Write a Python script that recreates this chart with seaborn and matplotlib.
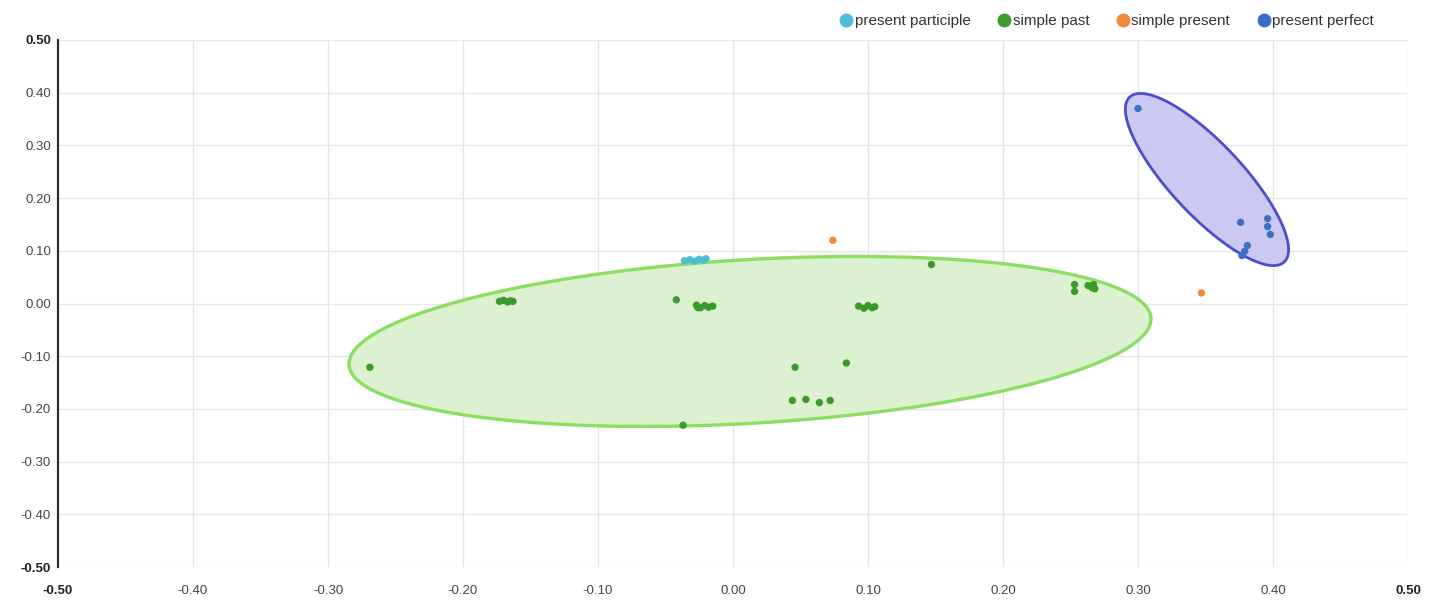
import numpy as np
import pandas as pd
import matplotlib
matplotlib.use("Agg")
import matplotlib.pyplot as plt
from matplotlib.lines import Line2D
import seaborn as sns

# ---- data -------------------------------------------------------------
categories = ["present participle", "simple past", "simple present", "present perfect"]
colors = ["#4cbcd8", "#3c9a2c", "#f0883a", "#3b6fc2"]

present_participle_x = [-0.036, -0.032, -0.028, -0.025, -0.022, -0.020]
present_participle_y = [0.081, 0.083, 0.080, 0.084, 0.082, 0.085]

simple_past_x = [-0.173, -0.170, -0.167, -0.165, -0.163,
                 -0.269, -0.042,
                 -0.027, -0.024, -0.021, -0.018, -0.015, -0.026,
                 0.093, 0.097, 0.100, 0.103, 0.105,
                 0.147,
                 0.253, 0.253, 0.263, 0.266, 0.267, 0.268,
                 0.046, 0.084,
                 0.044, 0.054, 0.064, 0.072,
                 -0.037]
simple_past_y = [0.004, 0.006, 0.003, 0.005, 0.004,
                 -0.121, 0.007,
                 -0.003, -0.008, -0.004, -0.007, -0.005, -0.008,
                 -0.005, -0.009, -0.004, -0.008, -0.006,
                 0.074,
                 0.036, 0.023, 0.034, 0.030, 0.036, 0.028,
                 -0.121, -0.113,
                 -0.184, -0.182, -0.188, -0.184,
                 -0.231]

simple_present_x = [0.074, 0.347]
simple_present_y = [0.120, 0.020]

present_perfect_x = [0.300, 0.376, 0.396, 0.396, 0.398, 0.381, 0.379, 0.377]
present_perfect_y = [0.370, 0.154, 0.161, 0.146, 0.131, 0.110, 0.099, 0.091]

x_ticks = [-0.5, -0.4, -0.3, -0.2, -0.1, 0.0, 0.1, 0.2, 0.3, 0.4, 0.5]
y_ticks = [-0.5, -0.4, -0.3, -0.2, -0.1, 0.0, 0.1, 0.2, 0.3, 0.4, 0.5]

# cluster outlines: centre, semi-axis vectors (data units)
past_center = (0.0126, -0.072)
past_axis_major = (0.297, 0.0445)
past_axis_minor = (0.0036, -0.155)

perfect_center = (0.3511, 0.2353)
perfect_axis_major = (0.0572, -0.1565)
perfect_axis_minor = (0.0195, 0.0467)

# ---- frame ------------------------------------------------------------
df = pd.concat([
    pd.DataFrame({"x": present_participle_x, "y": present_participle_y, "tense": categories[0]}),
    pd.DataFrame({"x": simple_past_x, "y": simple_past_y, "tense": categories[1]}),
    pd.DataFrame({"x": simple_present_x, "y": simple_present_y, "tense": categories[2]}),
    pd.DataFrame({"x": present_perfect_x, "y": present_perfect_y, "tense": categories[3]}),
], ignore_index=True)

sns.set_theme(style="white")
plt.rcParams["font.family"] = ["Liberation Sans", "DejaVu Sans"]

fig = plt.figure(figsize=(14.4, 6.03), dpi=100)
ax = fig.add_axes([58 / 1440, 1 - 567 / 603, 1350 / 1440, 527 / 603])


def outline(center, major, minor, n=240):
    t = np.linspace(0, 2 * np.pi, n)
    xs = center[0] + major[0] * np.cos(t) + minor[0] * np.sin(t)
    ys = center[1] + major[1] * np.cos(t) + minor[1] * np.sin(t)
    return xs, ys


ex, ey = outline(past_center, past_axis_major, past_axis_minor)
ax.fill(ex, ey, facecolor="#dcf1d0", edgecolor="#8ade63", linewidth=2.4, zorder=2)
ex, ey = outline(perfect_center, perfect_axis_major, perfect_axis_minor)
ax.fill(ex, ey, facecolor="#cbc8f2", edgecolor="#4d4dcc", linewidth=2.0, zorder=2)

sns.scatterplot(data=df, x="x", y="y", hue="tense", hue_order=categories,
                palette=colors, s=28, edgecolor="none", legend=False,
                ax=ax, zorder=3)

ax.set_xlim(-0.5, 0.5)
ax.set_ylim(-0.5, 0.5)
ax.set_xticks(x_ticks)
ax.set_yticks(y_ticks)
ax.set_xticklabels([f"{v:.2f}" for v in x_ticks])
ax.set_yticklabels([f"{v:.2f}" for v in y_ticks])
ax.set_xlabel("")
ax.set_ylabel("")
ax.grid(True, color="#e6e6e6", linewidth=1.0, zorder=0)
ax.set_axisbelow(True)
ax.tick_params(axis="both", length=0, labelsize=9.5, labelcolor="#444444")
ax.tick_params(axis="x", pad=13)
ax.tick_params(axis="y", pad=5)
for lbl in [ax.get_xticklabels()[0], ax.get_xticklabels()[-1],
            ax.get_yticklabels()[0], ax.get_yticklabels()[-1]]:
    lbl.set_fontweight("bold")
    lbl.set_color("#222222")

for side in ["top", "right", "bottom"]:
    ax.spines[side].set_visible(False)
ax.spines["left"].set_color("#333333")
ax.spines["left"].set_linewidth(1.6)

handles = [Line2D([0], [0], marker="o", linestyle="", markersize=10,
                  markerfacecolor=c, markeredgecolor="none", label=lab)
           for lab, c in zip(categories, colors)]
fig.legend(handles=handles, loc="upper right",
           bbox_to_anchor=(1380 / 1440, 1 - 8 / 603), borderaxespad=0,
           ncol=4, frameon=False, fontsize=11, handletextpad=0.05,
           columnspacing=1.7, handlelength=1.0, labelcolor="#333333")

fig.savefig("out.png", dpi=100)
